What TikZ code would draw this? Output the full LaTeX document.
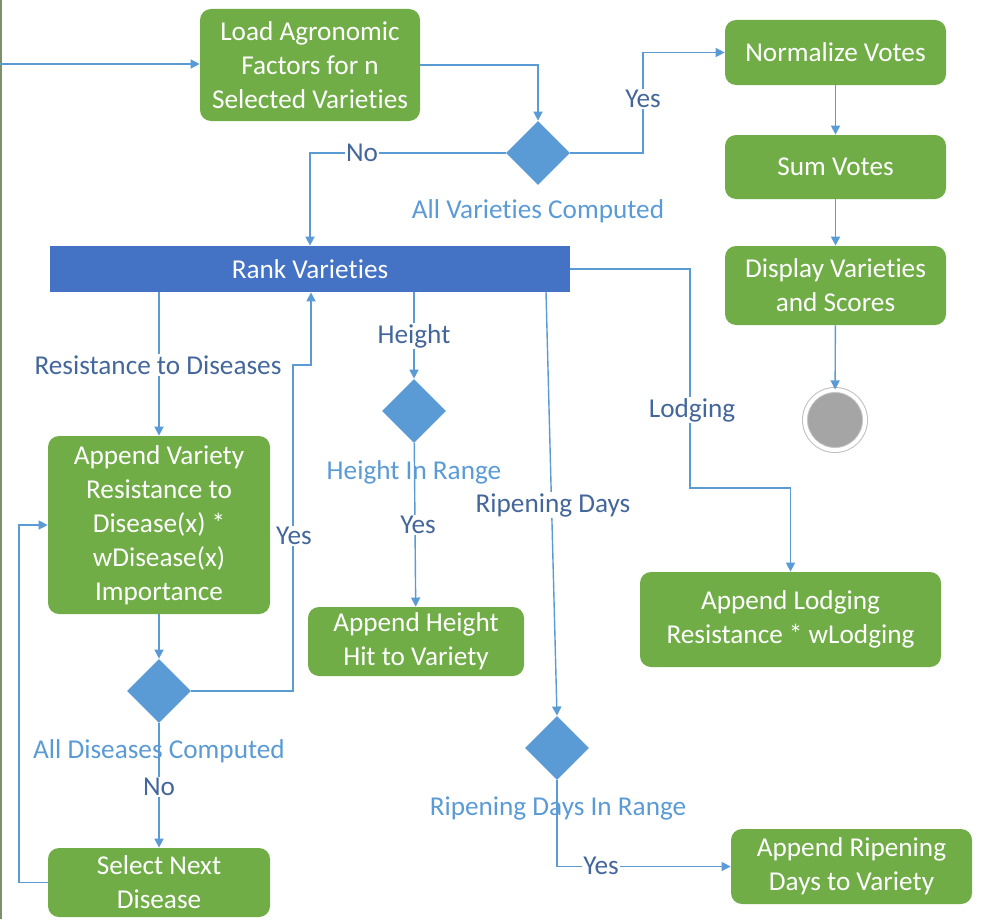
\documentclass[tikz,border=0pt]{standalone}
\usepackage{fontspec}
\setmainfont{Carlito}[Ligatures={NoCommon,NoContextual,NoRare}, Contextuals=NoAlternate]
\usetikzlibrary{shapes.geometric,arrows.meta}

\newlength{\du}
\setlength{\du}{0.02cm}

\definecolor{actgreen}{HTML}{70AD47}
\definecolor{rankblue}{HTML}{4472C4}
\definecolor{flowblue}{HTML}{5B9BD5}
\definecolor{guardblue}{HTML}{44679B}
\definecolor{endgrey}{HTML}{A5A5A5}
\definecolor{ringgrey}{HTML}{BFBFBF}
\definecolor{edgeolive}{HTML}{7D8F6B}

\newcommand{\diagfont}{\fontsize{15.5}{19.3}\selectfont}

\tikzset{
  action/.style={rectangle, rounded corners=11\du, fill=actgreen, text=white,
    align=center, inner sep=0pt, font=\diagfont},
  rankbar/.style={rectangle, fill=rankblue, text=white, inner sep=0pt, font=\diagfont},
  decision/.style={diamond, fill=flowblue, minimum width=64\du, minimum height=64\du,
    inner sep=0pt},
  finalnode/.style={circle, draw=ringgrey, line width=1\du, double=white,
    double distance=4\du, fill=endgrey, minimum size=60\du, inner sep=0pt},
  flow/.style={draw=flowblue, line width=1.4\du, -{Triangle[width=5.2pt,length=5.2pt]}},
  guard/.style={fill=white, text=guardblue, inner sep=1.5\du, font=\diagfont},
  declabel/.style={text=flowblue, inner sep=0pt, font=\diagfont}
}

\begin{document}
\begin{tikzpicture}[yscale=-1]
\useasboundingbox (0,0) rectangle (982\du,919\du);
\draw[edgeolive, line width=2\du] (1\du,0) -- (1\du,919\du);

% actions
\node[action, minimum width=220\du, minimum height=112\du] (load) at (310\du,65\du)
  {Load Agronomic\\Factors for n\\Selected Varieties};
\node[action, minimum width=221\du, minimum height=65\du] (norm) at (835.5\du,52.5\du)
  {Normalize Votes};
\node[action, minimum width=221\du, minimum height=64\du] (sum) at (835.5\du,167\du)
  {Sum Votes};
\node[action, minimum width=221\du, minimum height=79\du] (disp) at (835.5\du,285.5\du)
  {Display Varieties\\and Scores};
\node[finalnode] (final) at (835\du,420\du) {};
\node[rankbar, minimum width=520\du, minimum height=46\du] (rank) at (310\du,269\du)
  {Rank Varieties};
\node[action, minimum width=222\du, minimum height=178\du] (appvar) at (159\du,525\du)
  {Append Variety\\Resistance to\\Disease(x) *\\wDisease(x)\\Importance};
\node[action, minimum width=222\du, minimum height=69\du] (selnext) at (159\du,882.5\du)
  {Select Next\\Disease};
\node[action, minimum width=216\du, minimum height=69\du] (apphgt) at (416\du,641.5\du)
  {Append Height\\Hit to Variety};
\node[action, minimum width=301\du, minimum height=95\du] (applodg) at (790.5\du,619.5\du)
  {Append Lodging\\Resistance * wLodging};
\node[action, minimum width=241\du, minimum height=75\du] (apprip) at (851.5\du,866.5\du)
  {Append Ripening\\Days to Variety};

% decisions
\node[decision] (allvar) at (538\du,153\du) {};
\node[declabel] (allvarlbl) at (538\du,211\du) {All Varieties Computed};
\node[decision] (alldis) at (159\du,691\du) {};
\node[declabel] (alldislbl) at (159\du,751\du) {All Diseases Computed};
\node[decision] (hgtok) at (414\du,411\du) {};
\node[declabel] (hgtoklbl) at (414\du,472\du) {Height In Range};
\node[decision] (ripok) at (557\du,748\du) {};
\node[declabel] (ripoklbl) at (558\du,808\du) {Ripening Days In Range};

\coordinate (entry) at (0,64\du);
\coordinate (yesturn) at (643\du,100\du);
\coordinate (disup) at (293\du,365\du);
\coordinate (disin) at (311\du,365\du);
\coordinate (loopx) at (19\du,0);
\coordinate (ripsrc) at (546\du,292\du);
\coordinate (lodgturn) at (690\du,488\du);

% connectors
\draw[flow] (entry) -- (entry -| load.west);
\draw[flow] (load.east) -| (allvar.north);
\draw[flow] (allvar.east) -| (yesturn) |- (norm.west);
\draw[flow] (allvar.west) -| (rank.north);
\draw[flow] (norm) -- (sum);
\draw[flow] (sum) -- (disp);
\draw[flow] (disp) -- (final);
\draw[flow] (rank.south -| appvar.north) -- (appvar.north);
\draw[flow] (appvar) -- (alldis);
\draw[flow] (alldis.east) -| (disup) -- (disin) -- (rank.south -| disin);
\draw[flow] (alldis) -- (selnext);
\draw[flow] (selnext.west) -- (selnext.west -| loopx) |- (appvar.west);
\draw[flow] (rank.south -| hgtok.north) -- (hgtok.north);
\draw[flow] (hgtok) -- (apphgt);
\draw[flow] (ripsrc) -- (ripok.north);
\draw[flow] (ripok.south) |- (apprip.west);
\draw[flow] (rank.east) -| (lodgturn) -| (applodg.north);

% guards
\node[guard] (nolbl) at (362\du,153\du) {No};
\node[guard] (yeslbl) at (643\du,99\du) {Yes};
\node[guard] (reslbl) at (158\du,365\du) {Resistance to Diseases};
\node[guard] (yesdis) at (294\du,536\du) {Yes};
\node[guard] (nodis) at (159\du,787\du) {No};
\node[guard] (hgtlbl) at (414\du,336\du) {Height};
\node[guard] (yeshgt) at (418\du,525\du) {Yes};
\node[guard] (riplbl) at (553\du,505\du) {Ripening Days};
\node[guard] (lodglbl) at (692\du,410\du) {Lodging};
\node[guard] (yesrip) at (601\du,866\du) {Yes};
\end{tikzpicture}
\end{document}
